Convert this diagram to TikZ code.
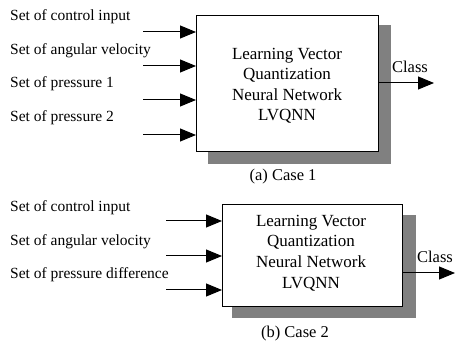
\documentclass[tikz,border=0pt]{standalone}
\usepackage{fontspec}
\setmainfont{Liberation Serif}
\usetikzlibrary{arrows.meta}
\begin{document}
\begin{tikzpicture}[x=1pt,y=-1pt,
  lbl/.style={anchor=west,inner sep=0pt,font=\fontsize{15.5}{18}\selectfont},
  captxt/.style={inner sep=0pt,font=\fontsize{16.5}{19}\selectfont},
  shadowbox/.style={fill=black!50,draw=none},
  mainbox/.style={draw=black,fill=white,line width=1pt,inner sep=0pt},
  btext/.style={align=center,inner sep=0pt,font=\fontsize{17}{20.5}\selectfont},
  arr/.style={line width=1pt,-{Triangle[length=16pt,width=13pt]}}]
\useasboundingbox (0,0) rectangle (455,347);
% Case 1
\fill[shadowbox] (208,25) rectangle (391,164);
\node[mainbox,minimum width=182pt,minimum height=136pt,anchor=north west] (b1) at (196,15) {};
\node[btext] (t1) at (287,86) {Learning Vector\\Quantization\\Neural Network\\LVQNN};
\node[lbl] (l11) at (10,17) {Set of control input};
\node[lbl] (l12) at (10,51) {Set of angular velocity};
\node[lbl] (l13) at (10,84) {Set of pressure 1};
\node[lbl] (l14) at (10,118) {Set of pressure 2};
\coordinate (s11) at (143,32);
\coordinate (s12) at (143,66);
\coordinate (s13) at (143,100);
\coordinate (s14) at (143,135);
\draw[arr] (s11) -- (s11 -| b1.west);
\draw[arr] (s12) -- (s12 -| b1.west);
\draw[arr] (s13) -- (s13 -| b1.west);
\draw[arr] (s14) -- (s14 -| b1.west);
\coordinate (o1) at (434,83);
\draw[arr] (o1 -| b1.east) -- (o1);
\node[captxt] (c1) at (410,67) {Class};
\node[captxt] (cap1) at (283,177) {(a) Case 1};
% Case 2
\fill[shadowbox] (232,215) rectangle (416,318);
\node[mainbox,minimum width=180pt,minimum height=102pt,anchor=north west] (b2) at (222,204) {};
\node[btext] (t2) at (311,253) {Learning Vector\\Quantization\\Neural Network\\LVQNN};
\node[lbl] (l21) at (10,208) {Set of control input};
\node[lbl] (l22) at (10,242) {Set of angular velocity};
\node[lbl] (l23) at (10,275) {Set of pressure difference};
\coordinate (s21) at (166,221);
\coordinate (s22) at (166,256);
\coordinate (s23) at (166,290);
\draw[arr] (s21) -- (s21 -| b2.west);
\draw[arr] (s22) -- (s22 -| b2.west);
\draw[arr] (s23) -- (s23 -| b2.west);
\coordinate (o2) at (455,273);
\draw[arr] (o2 -| b2.east) -- (o2);
\node[captxt] (c2) at (435,257) {Class};
\node[captxt] (cap2) at (295,334) {(b) Case 2};
\end{tikzpicture}
\end{document}
